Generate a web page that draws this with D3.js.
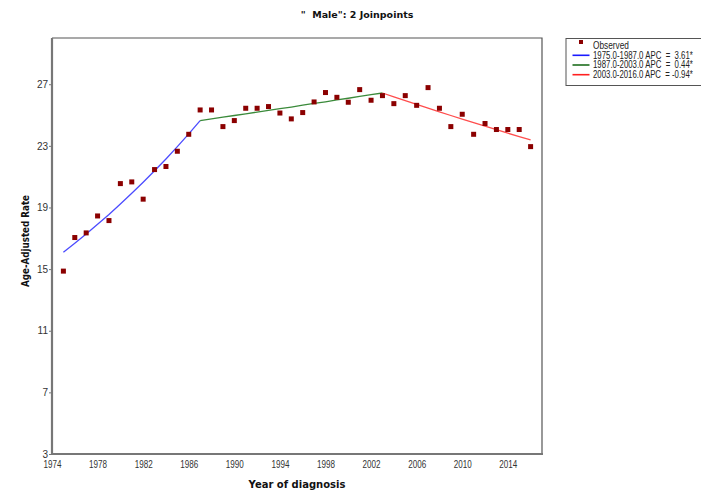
<!DOCTYPE html>
<html><head><meta charset="utf-8">
<script src="https://cdn.jsdelivr.net/npm/d3@7"></script>
<style>
html,body{margin:0;padding:0;background:#fff;}
svg{display:block;}
</style></head>
<body>
<script>
const years = d3.range(1975, 2017);
const observed = [14.87,17.05,17.35,18.45,18.15,20.55,20.66,19.54,21.46,21.66,22.65,23.75,25.33,25.33,24.25,24.64,25.44,25.44,25.55,25.13,24.75,25.16,25.85,26.46,26.15,25.83,26.65,25.96,26.26,25.74,26.26,25.63,26.78,25.44,24.25,25.05,23.75,24.45,24.06,24.06,24.06,22.95];
const seg1Years = d3.range(1975, 1988);
const seg1Fit = [16.10,16.68,17.28,17.91,18.55,19.22,19.92,20.64,21.38,22.15,22.95,23.78,24.64];
const seg2Years = d3.range(1987, 2004);
const seg2Fit = [24.64,24.75,24.86,24.97,25.08,25.19,25.30,25.41,25.52,25.64,25.75,25.86,25.98,26.09,26.21,26.32,26.43];
const seg3Years = d3.range(2003, 2017);
const seg3Fit = [26.43,26.18,25.94,25.69,25.45,25.21,24.97,24.74,24.51,24.28,24.05,23.82,23.60,23.38];
const legendLabels = ["Observed","1975.0-1987.0 APC  =  3.61*","1987.0-2003.0 APC  =  0.44*","2003.0-2016.0 APC  = -0.94*"];
const segColors = ["#4b4bff","#3a8a3a","#ff4d4d"];
const legendColors = ["#1a1aff","#1e6e1e","#ff2020"];
const xTicks = d3.range(1974, 2015, 4);
const yTicks = [3,7,11,15,19,23,27];
const title = '"  Male": 2 Joinpoints';

const W = 701, H = 492;
const m = {l:52, r:542, t:38, b:454};
const svg = d3.select("body").append("svg").attr("width",W).attr("height",H);
const x = d3.scaleLinear().domain([1974,2017]).range([m.l,m.r]);
const y = d3.scaleLinear().domain([3,30]).range([m.b,m.t]);
const tickFont = '"Liberation Sans",Arial,sans-serif';

// squeeze a text horizontally to a target width about an anchor x
function squeeze(sel, target, ax, ay){
  sel.each(function(){
    const w = this.getComputedTextLength();
    if (w > target) {
      const k = target / w;
      d3.select(this).attr("transform",`translate(${ax},${ay}) scale(${k},1) translate(${-ax},${-ay})`);
    }
  });
}

// frame top/right
svg.append("path").attr("d",`M${m.l},${m.t}H${m.r}V${m.b}`).attr("fill","none").attr("stroke","#555").attr("stroke-width",1.2);

// axes
const gx = svg.append("g").attr("transform",`translate(0,${m.b})`)
  .call(d3.axisBottom(x).tickValues(xTicks).tickFormat(d3.format("d")).tickSize(0).tickPadding(7));
const gy = svg.append("g").attr("transform",`translate(${m.l},0)`)
  .call(d3.axisLeft(y).tickValues(yTicks).tickFormat(d3.format("d")).tickSize(3).tickPadding(1));
[gx,gy].forEach(g=>{
  g.select(".domain").attr("stroke","#777").attr("stroke-width",2.2);
  g.selectAll(".tick line").attr("stroke","#777");
  g.selectAll("text").attr("font-family",tickFont).attr("font-size",10).attr("fill","#333");
});
gx.selectAll(".tick text").each(function(){ squeeze(d3.select(this), 18, 0, 0); });
gx.select(".domain").attr("d",`M${m.l-1},0H${m.r+1}`);
gy.select(".domain").attr("d",`M0,${m.t}V${m.b+1}`);

// fitted segments
const line = d3.line().x(d=>x(d[0])).y(d=>y(d[1]));
[[seg1Years,seg1Fit],[seg2Years,seg2Fit],[seg3Years,seg3Fit]].forEach(([ys,vs],i)=>{
  svg.append("path").datum(ys.map((yr,j)=>[yr,vs[j]])).attr("d",line)
    .attr("fill","none").attr("stroke",segColors[i]).attr("stroke-width",1.3);
});

// observed points
svg.append("g").selectAll("rect").data(years.map((yr,i)=>[yr,observed[i]])).join("rect")
  .attr("x",d=>x(d[0])-2.5).attr("y",d=>y(d[1])-2.5).attr("width",5).attr("height",5)
  .attr("fill","#8b0000");

// title
svg.append("text").attr("x",357).attr("y",18).attr("text-anchor","middle")
  .attr("font-family","'DejaVu Sans',Verdana,sans-serif").attr("font-weight","bold").attr("font-size",9.5)
  .attr("fill","#111").style("white-space","pre").text(title);

// axis titles
svg.append("text").attr("x",(m.l+m.r)/2).attr("y",488).attr("text-anchor","middle")
  .attr("font-family","'DejaVu Sans',Verdana,sans-serif").attr("font-weight","bold").attr("font-size",10)
  .attr("fill","#111").text("Year of diagnosis");
const yl = svg.append("g").attr("transform",`translate(29,241) rotate(-90)`);
squeeze(yl.append("text").attr("text-anchor","middle")
  .attr("font-family","'DejaVu Sans',Verdana,sans-serif").attr("font-weight","bold").attr("font-size",10)
  .attr("fill","#111").text("Age-Adjusted Rate"), 92, 0, 0);

// legend
const lg = svg.append("g");
lg.append("rect").attr("x",566).attr("y",38.5).attr("width",150).attr("height",47)
  .attr("fill","#fff").attr("stroke","#555").attr("stroke-width",1);
const rowY = [45.5, 55.3, 65, 74.7];
const textLens = [36, 100, 100, 100];
legendLabels.forEach((t,i)=>{
  if(i===0){
    lg.append("rect").attr("x",579).attr("y",rowY[0]-5.5).attr("width",4).attr("height",4).attr("fill","#8b0000");
  } else {
    lg.append("line").attr("x1",572.5).attr("x2",589.5).attr("y1",rowY[i]).attr("y2",rowY[i])
      .attr("stroke",legendColors[i-1]).attr("stroke-width",1.6);
  }
  const tx = lg.append("text").attr("x",593).attr("y",rowY[i]+3.5).attr("font-family",tickFont).attr("font-size",10)
    .attr("fill","#222").style("white-space","pre").text(t);
  squeeze(tx, textLens[i], 593, rowY[i]);
});
</script>
</body></html>
